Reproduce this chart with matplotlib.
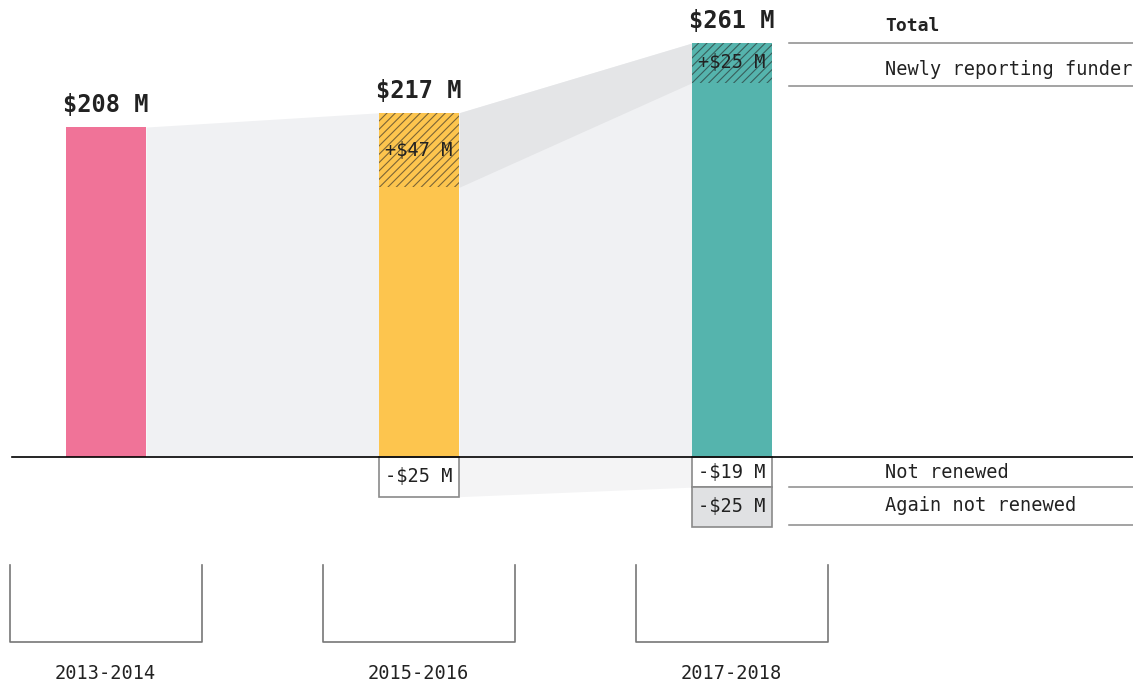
import numpy as np
import matplotlib.pyplot as plt

plt.rcParams['font.family'] = ['DejaVu Sans Mono']
plt.rcParams['hatch.linewidth'] = 0.8

# data ($ millions)
periods = ['2013-2014', '2015-2016', '2017-2018']
totals = [208, 217, 261]
new_funders = [0, 47, 25]
not_renewed = [0, 25, 19]
again_not_renewed = [0, 0, 25]
bar_colors = ['#f07398', '#fdc54e', '#55b4ad']
legend_top = ['Total', 'Newly reporting funder']
legend_bottom = ['Not renewed', 'Again not renewed']

TEXT = '#222222'
LINE = '#8a8a8a'
LIGHT = '#f0f1f3'
DARK = '#e4e5e7'
W = 0.2556

fig = plt.figure(figsize=(11.33, 6.87), dpi=100)
ax = fig.add_axes([0, 0, 1, 1])
ax.set_xlim(-0.3387, 3.281)
ax.set_ylim(-145.0, 288.1)
ax.axis('off')

x = np.arange(len(periods))

# flow bands between bars
for i in range(len(periods) - 1):
    xs = [x[i] + W / 2, x[i + 1] - W / 2]
    ax.fill_between(xs, [0, 0], [totals[i], totals[i + 1]], color=LIGHT, lw=0, zorder=1)
    if new_funders[i] and new_funders[i + 1]:
        ax.fill_between(xs, [totals[i] - new_funders[i], totals[i + 1] - new_funders[i + 1]],
                        [totals[i], totals[i + 1]], color=DARK, lw=0, zorder=1)
    if not_renewed[i] and not_renewed[i + 1]:
        ax.fill_between(xs, [-not_renewed[i], -not_renewed[i + 1]], [0, 0],
                        color='#f4f4f5', lw=0, zorder=1)

# bars
ax.bar(x, totals, width=W, color=bar_colors, zorder=2)
for i in range(len(periods)):
    if new_funders[i]:
        ax.bar(x[i], new_funders[i], bottom=totals[i] - new_funders[i], width=W,
               facecolor='none', edgecolor=(0.15, 0.15, 0.15, 0.6), lw=0,
               hatch='////', zorder=3)
        ax.text(x[i], totals[i] - new_funders[i] / 2, f'+${new_funders[i]} M',
                ha='center', va='center', fontsize=13.4, color=TEXT, zorder=4)
    ax.annotate(f'${totals[i]} M', (x[i], totals[i]), xytext=(0, 7),
                textcoords='offset points', ha='center', va='bottom',
                fontsize=17, fontweight='bold', color=TEXT)
    if not_renewed[i]:
        ax.bar(x[i], -not_renewed[i], width=W, facecolor='white', edgecolor=LINE,
               lw=1.2, zorder=2)
        ax.text(x[i], -not_renewed[i] / 2, f'-${not_renewed[i]} M', ha='center',
                va='center', fontsize=13.4, color=TEXT, zorder=4)
    if again_not_renewed[i]:
        ax.bar(x[i], -again_not_renewed[i], bottom=-not_renewed[i], width=W,
               facecolor='#e0e1e3', edgecolor=LINE, lw=1.2, zorder=2)
        ax.text(x[i], -not_renewed[i] - again_not_renewed[i] / 2,
                f'-${again_not_renewed[i]} M', ha='center', va='center',
                fontsize=13.4, color=TEXT, zorder=4)

# baseline
ax.plot([-0.30, 3.281], [0, 0], color='black', lw=1.2, zorder=5)

# right-side legend
last = len(periods) - 1
lx0, lx1, tx = 2.182, 3.281, 2.489
top_lines = [totals[last], totals[last] - new_funders[last] - 2]
bot_lines = [-not_renewed[last], -not_renewed[last] - again_not_renewed[last] + 1]
for yl in top_lines + bot_lines:
    ax.plot([lx0, lx1], [yl, yl], color=LINE, lw=1.1)
ax.text(tx, top_lines[0] + 11, legend_top[0], ha='left', va='center',
        fontsize=13, fontweight='bold', color=TEXT)
ax.text(tx, (top_lines[0] + top_lines[1]) / 2 - 3, legend_top[1], ha='left',
        va='center', fontsize=13.4, color=TEXT)
ax.text(tx, (0 + bot_lines[0]) / 2, legend_bottom[0], ha='left', va='center',
        fontsize=13.4, color=TEXT)
ax.text(tx, (bot_lines[0] + bot_lines[1]) / 2 + 0.5, legend_bottom[1], ha='left',
        va='center', fontsize=13.4, color=TEXT)

# period brackets and labels
for i, p in enumerate(periods):
    ax.plot([x[i] - 0.307, x[i] - 0.307, x[i] + 0.307, x[i] + 0.307],
            [-68.1, -116.6, -116.6, -68.1], color='#777777', lw=1.2)
    ax.text(x[i] - 0.003, -136.2, p, ha='center', va='center', fontsize=13.4,
            color=TEXT)

fig.savefig('out.png', dpi=100)
